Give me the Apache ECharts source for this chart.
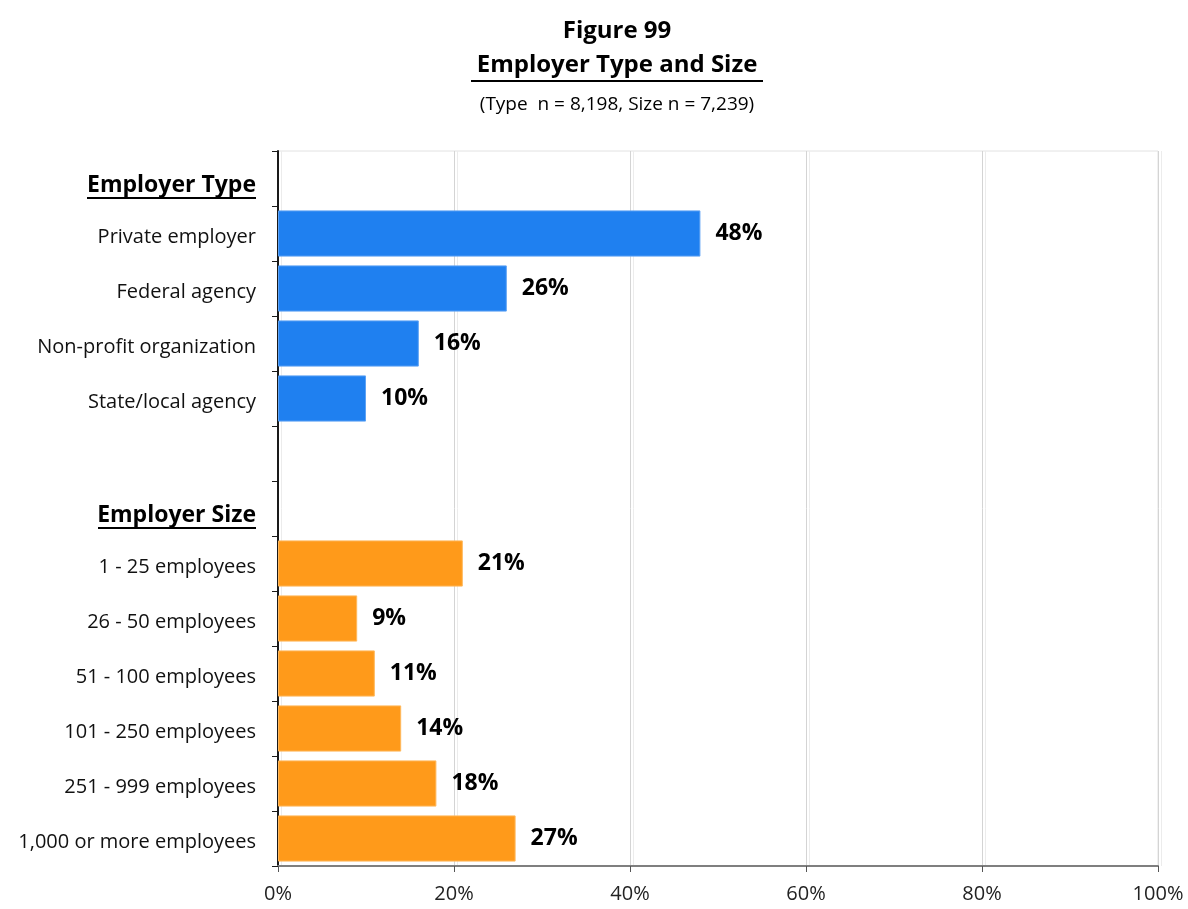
<!DOCTYPE html>
<html>
<head>
<meta charset="utf-8">
<script src="https://cdn.jsdelivr.net/npm/echarts@6/dist/echarts.min.js"></script>
<style>
  html, body { margin: 0; padding: 0; background: #fff; }
  #chart { width: 1188px; height: 909px; }
</style>
</head>
<body>
<div id="chart"></div>
<script>
// categories top to bottom (headers and spacer rows have no bar)
const categories = [
  'Employer Type', 'Private employer', 'Federal agency', 'Non-profit organization',
  'State/local agency', '', 'Employer Size', '1 - 25 employees', '26 - 50 employees',
  '51 - 100 employees', '101 - 250 employees', '251 - 999 employees', '1,000 or more employees'
];
const typeValues = ['-', 48, 26, 16, 10, '-', '-', '-', '-', '-', '-', '-', '-'];
const sizeValues = ['-', '-', '-', '-', '-', '-', '-', 21, 9, 11, 14, 18, 27];
const xTicks = [0, 20, 40, 60, 80, 100];

const FONT = '"Open Sans", "Noto Sans", sans-serif';
const chart = echarts.init(document.getElementById('chart'));

const barLabel = {
  show: true, position: 'right', distance: 15,
  fontFamily: FONT, fontSize: 23, fontWeight: 'bold', color: '#000',
  formatter: p => p.value + '%'
};

const option = {
  backgroundColor: '#fff',
  title: [
    {
      text: 'Figure 99', left: 612, top: 14, textAlign: 'center',
      textStyle: { fontFamily: FONT, fontSize: 24, fontWeight: 'bold', color: '#000' }
    },
    {
      text: '{t|Employer Type and Size}\n{u|}', left: 612, top: 45, textAlign: 'center',
      textStyle: {
        rich: {
          t: { fontFamily: FONT, fontSize: 24, fontWeight: 'bold', color: '#000', lineHeight: 30 },
          u: { width: 292, height: 2, lineHeight: 2, backgroundColor: '#000' }
        }
      }
    },
    {
      text: '(Type  n = 8,198, Size n = 7,239)', left: 612, top: 90, textAlign: 'center',
      textStyle: { fontFamily: FONT, fontSize: 19, fontWeight: 'normal', color: '#000' }
    }
  ],
  grid: {
    left: 278, right: 30, top: 151, bottom: 43,
    show: true, borderColor: '#e2e2e2', borderWidth: 1
  },
  xAxis: {
    type: 'value', min: 0, max: 100, interval: 20,
    axisLine: { show: true, lineStyle: { color: '#7f7f7f', width: 2 } },
    axisTick: { show: true, length: 6, lineStyle: { color: '#555', width: 1 } },
    axisLabel: {
      margin: 18, fontFamily: FONT, fontSize: 20, color: '#222',
      formatter: v => xTicks.includes(v) ? v + '%' : ''
    },
    splitLine: {
      show: true,
      lineStyle: { color: '#d4d4d4', width: 1, shadowColor: '#ececec', shadowOffsetX: 3, shadowBlur: 0 }
    }
  },
  yAxis: {
    type: 'category', inverse: true, data: categories,
    axisLine: { show: true, lineStyle: { color: '#1a1a1a', width: 2 } },
    axisTick: { show: true, length: 6, lineStyle: { color: '#1a1a1a', width: 1 } },
    axisLabel: {
      interval: 0, margin: 22, fontFamily: FONT, fontSize: 20, color: '#111',
      formatter: v => {
        if (v === 'Employer Type') return '{s|}\n{h|' + v + '}\n{u1|}';
        if (v === 'Employer Size') return '{s|}\n{h|' + v + '}\n{u2|}';
        return '{n|' + v + '}';
      },
      rich: {
        n: { fontFamily: FONT, fontSize: 20, color: '#111', padding: [8, 0, 0, 0] },
        s: { lineHeight: 15, height: 15, align: 'right' },
        h: { fontFamily: FONT, fontSize: 23, fontWeight: 'bold', color: '#000', lineHeight: 24, align: 'right' },
        u1: { width: 169, height: 2, lineHeight: 2, backgroundColor: '#000', align: 'right' },
        u2: { width: 158, height: 2, lineHeight: 2, backgroundColor: '#000', align: 'right' }
      }
    }
  },
  series: [
    {
      name: 'Type', type: 'bar', stack: 'all', data: typeValues,
      barCategoryGap: '16%',
      itemStyle: { color: '#1f80f0', borderColor: '#5da2f4', borderWidth: 1 },
      label: barLabel
    },
    {
      name: 'Size', type: 'bar', stack: 'all', data: sizeValues,
      barCategoryGap: '16%',
      itemStyle: { color: '#ff9a1a', borderColor: '#ffb85c', borderWidth: 1 },
      label: barLabel
    }
  ]
};

chart.setOption(option);
</script>
</body>
</html>
